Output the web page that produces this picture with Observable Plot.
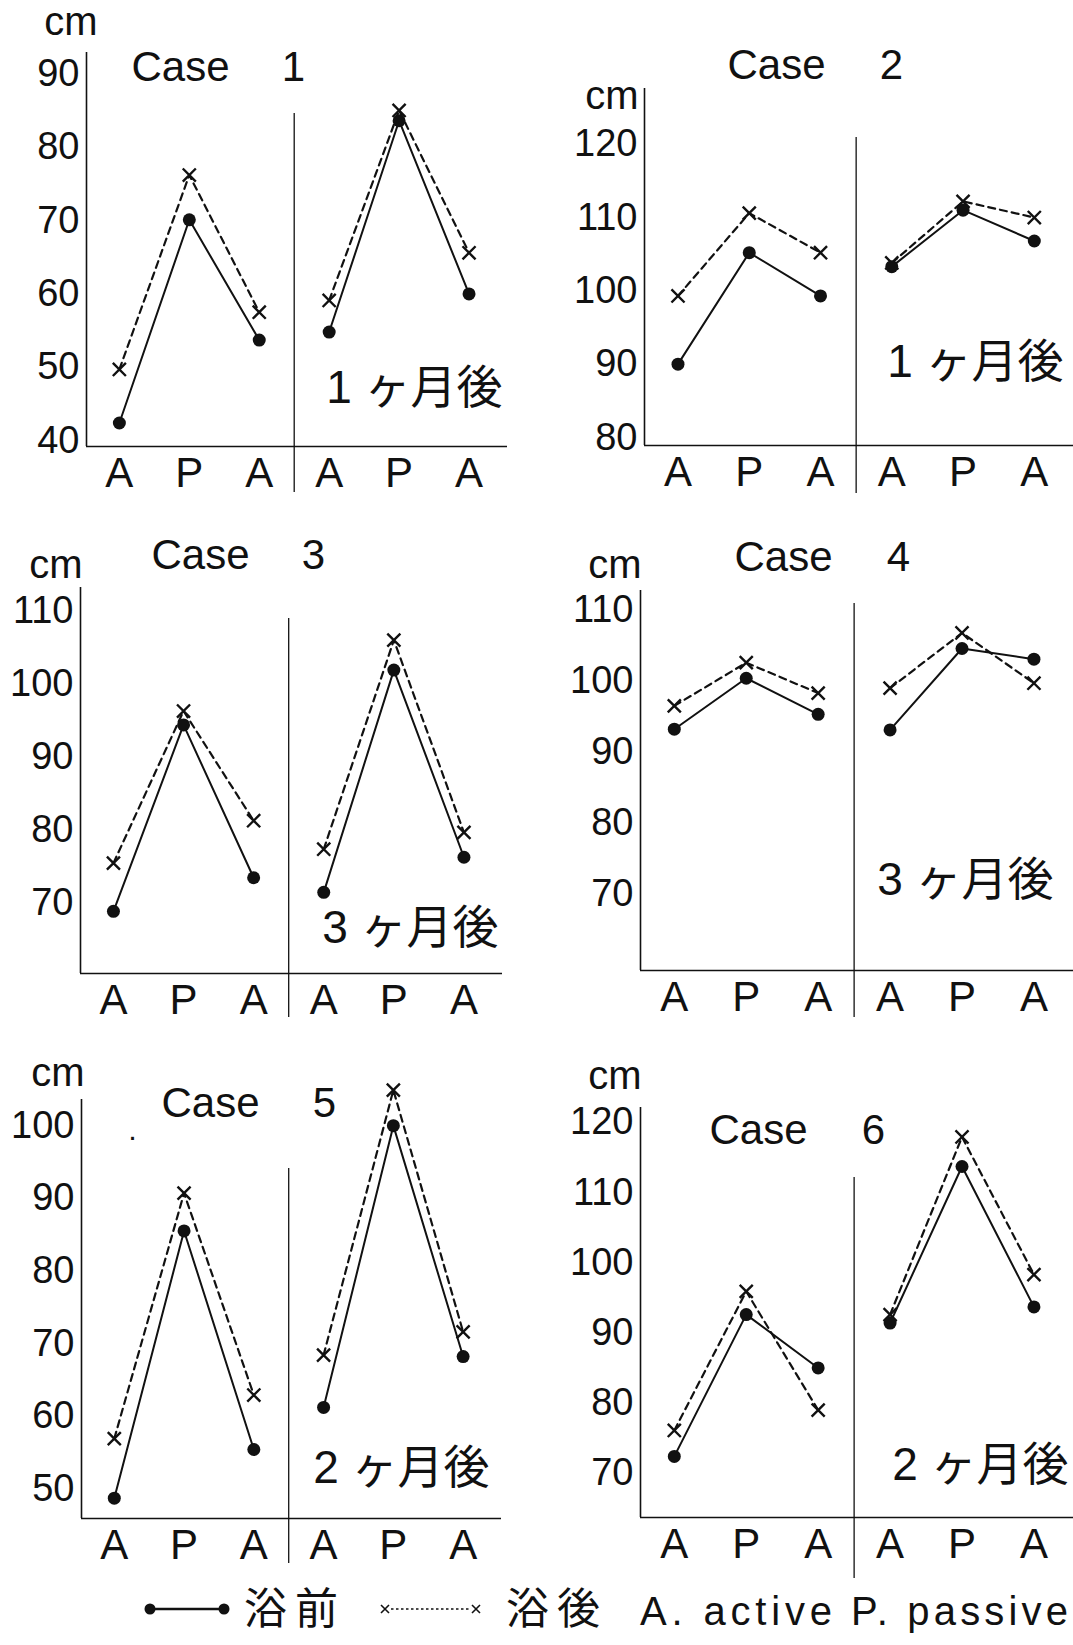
<!DOCTYPE html>
<html lang="ja">
<head>
<meta charset="utf-8">
<script src="https://cdn.jsdelivr.net/npm/d3@7"></script>
<script src="https://cdn.jsdelivr.net/npm/@observablehq/plot@0.6"></script>
<style>
  html, body { margin: 0; padding: 0; background: #fff; }
  #chart {
    position: relative; width: 1073px; height: 1645px; overflow: hidden;
    font-family: "Liberation Sans", "Noto Sans CJK JP", sans-serif; color: #111;
  }
  #chart > svg { position: absolute; overflow: visible; }
</style>
</head>
<body>
<div id="chart"></div>
<script>
// Measurement order in every panel: first session, then the follow-up session
const positions = ["A", "P", "A", "A", "P", "A"];
const caseNumbers = ["1", "2", "3", "4", "5", "6"];
const followUp = ["1 ヶ月後", "1 ヶ月後", "3 ヶ月後", "3 ヶ月後", "2 ヶ月後", "2 ヶ月後"];

// y-axis tick labels (cm) for each case
const yTicks = [
  [40, 50, 60, 70, 80, 90],
  [80, 90, 100, 110, 120],
  [70, 80, 90, 100, 110],
  [70, 80, 90, 100, 110],
  [50, 60, 70, 80, 90, 100],
  [70, 80, 90, 100, 110, 120]
];

// 浴前 (before bathing), cm, in the order of `positions`
const beforeBath = [
  [42.4, 70.1, 53.7, 54.8, 83.6, 60.0],
  [90.0, 105.2, 99.3, 103.3, 111.0, 106.8],
  [68.9, 94.4, 73.5, 71.5, 101.9, 76.3],
  [93.2, 100.4, 95.3, 93.1, 104.6, 103.1],
  [48.7, 85.5, 55.4, 61.2, 100.0, 68.2],
  [72.4, 92.6, 85.0, 91.4, 113.7, 93.7]
];

// 浴後 (after bathing), cm
const afterBath = [
  [49.7, 76.2, 57.5, 59.1, 85.0, 65.6],
  [99.3, 110.6, 105.2, 103.8, 112.2, 110.0],
  [75.5, 96.3, 81.3, 77.4, 106.0, 79.7],
  [96.5, 102.6, 98.3, 99.0, 106.8, 99.7],
  [56.9, 90.7, 62.9, 68.4, 104.9, 71.6],
  [76.1, 95.9, 79.0, 92.6, 117.9, 98.3]
];

// Panel placement and styling (pixels)
const layout = [
  {left: 0,   top: 0,    width: 536, height: 505, ml: 86,  mr: 29, mt: 52, mb: 59, y: [39.2, 92.9],  div: [61, -46], title: [180, 67, 293], cm: [97, 22],  note: [502, 388]},
  {left: 536, top: 0,    width: 537, height: 505, ml: 108, mr: 0,  mt: 88, mb: 60, y: [78.9, 127.6], div: [49, -48], title: [240, 65, 355], cm: [102, 96], note: [527, 362]},
  {left: 0,   top: 520,  width: 536, height: 505, ml: 80,  mr: 34, mt: 67, mb: 52, y: [60.4, 113.2], div: [31, -44], title: [200, 35, 313], cm: [82, 45],  note: [498, 408]},
  {left: 536, top: 520,  width: 537, height: 505, ml: 104, mr: 0,  mt: 70, mb: 55, y: [59.1, 112.8], div: [13, -47], title: [247, 37, 362], cm: [105, 45], note: [517, 360]},
  {left: 0,   top: 1040, width: 536, height: 545, ml: 81,  mr: 35, mt: 59, mb: 67, y: [45.9, 103.6], div: [69, -45], title: [210, 63, 324], cm: [84, 33],  note: [489, 428], speck: [132, 96]},
  {left: 536, top: 1040, width: 537, height: 545, ml: 104, mr: 0,  mt: 67, mb: 68, y: [63.7, 122.1], div: [70, -61], title: [222, 90, 337], cm: [105, 36], note: [532, 425]}
];

const ink = "#111";
const fontFamily = '"Liberation Sans", "Noto Sans CJK JP", sans-serif';
const narrowFamily = '"Liberation Sans Narrow", "Liberation Sans", sans-serif';
const xDomain = [-0.47, 5.55];

const chart = document.getElementById("chart");

layout.forEach((L, i) => {
  const rows = positions.map((p, j) => ({
    idx: j, phase: j < 3 ? "first" : "followUp", before: beforeBath[i][j], after: afterBath[i][j]
  }));

  // free-standing text, centred on a point given relative to the panel's top-left corner
  const note = (text, x, y, opts) => Plot.text([text], {
    text: d => d, frameAnchor: "top-left", dx: x - L.ml, dy: y - L.mt,
    textAnchor: "middle", lineAnchor: "middle",
    fill: ink, fontFamily, ...opts
  });

  const marks = [
    // axes frame: left vertical line and baseline
    Plot.ruleX([xDomain[0]], {stroke: ink, strokeWidth: 1.6}),
    Plot.ruleY([L.y[0]], {stroke: ink, strokeWidth: 1.6}),
    // separator between first session and follow-up
    Plot.ruleX([2.5], {stroke: ink, strokeWidth: 1.3, insetTop: L.div[0], insetBottom: L.div[1]}),
    Plot.axisY(yTicks[i], {tickSize: 0, tickPadding: 7, fontSize: 38, color: ink, fontFamily, label: null}),
    Plot.axisX([0, 1, 2, 3, 4, 5], {
      tickSize: 0, tickPadding: 11, fontSize: 42, color: ink, fontFamily, label: null,
      tickFormat: j => positions[j]
    }),
    Plot.line(rows, {x: "idx", y: "after", z: "phase", stroke: ink, strokeWidth: 2.2, strokeDasharray: "7,5"}),
    Plot.line(rows, {x: "idx", y: "before", z: "phase", stroke: ink, strokeWidth: 2}),
    Plot.dot(rows, {x: "idx", y: "after", symbol: "times", r: 6, stroke: ink, strokeWidth: 2.4}),
    Plot.dot(rows, {x: "idx", y: "before", r: 6.5, fill: ink}),
    note("Case", L.title[0], L.title[1], {fontSize: 42}),
    note(caseNumbers[i], L.title[2], L.title[1], {fontSize: 42}),
    note("cm", L.cm[0], L.cm[1], {fontSize: 40, textAnchor: "end", fontFamily: narrowFamily}),
    note(followUp[i], L.note[0], L.note[1], {fontSize: 46, textAnchor: "end"})
  ];
  if (L.speck) marks.push(note("·", L.speck[0], L.speck[1], {fontSize: 30}));

  const svg = Plot.plot({
    width: L.width, height: L.height,
    marginLeft: L.ml, marginRight: L.mr, marginTop: L.mt, marginBottom: L.mb,
    x: {type: "linear", domain: xDomain, label: null},
    y: {type: "linear", domain: L.y, label: null},
    style: {background: "transparent", color: ink, fontFamily},
    marks
  });
  svg.style.left = L.left + "px";
  svg.style.top = L.top + "px";
  chart.appendChild(svg);
});

// Legend row beneath the panels
const legend = d3.create("svg")
  .attr("width", 1073).attr("height", 60)
  .style("left", "0px").style("top", "1580px");
const g = legend.append("g").attr("fill", ink).attr("stroke", "none");
g.append("line").attr("x1", 150).attr("x2", 224).attr("y1", 29).attr("y2", 29)
  .attr("stroke", ink).attr("stroke-width", 2.5);
g.selectAll("circle.k").data([150, 224]).join("circle")
  .attr("cx", d => d).attr("cy", 29).attr("r", 5.5);
g.append("text").attr("x", 244).attr("y", 29).attr("dominant-baseline", "central")
  .attr("font-size", 43).attr("font-family", fontFamily)
  .attr("textLength", 94).text("浴前");
g.append("line").attr("x1", 391).attr("x2", 470).attr("y1", 29).attr("y2", 29)
  .attr("stroke", ink).attr("stroke-width", 1.5).attr("stroke-dasharray", "2.5,2.5");
g.selectAll("path.x").data([385, 476]).join("path")
  .attr("d", d => `M${d - 4},${25}L${d + 4},${33}M${d + 4},${25}L${d - 4},${33}`)
  .attr("stroke", ink).attr("stroke-width", 1.6);
g.append("text").attr("x", 506).attr("y", 29).attr("dominant-baseline", "central")
  .attr("font-size", 43).attr("font-family", fontFamily)
  .attr("textLength", 94).text("浴後");
g.append("text").attr("x", 640).attr("y", 45)
  .attr("font-size", 40).attr("font-family", fontFamily)
  .attr("textLength", 192).text("A. active");
g.append("text").attr("x", 851).attr("y", 45)
  .attr("font-size", 40).attr("font-family", fontFamily)
  .attr("textLength", 217).text("P. passive");
chart.appendChild(legend.node());
</script>
</body>
</html>
